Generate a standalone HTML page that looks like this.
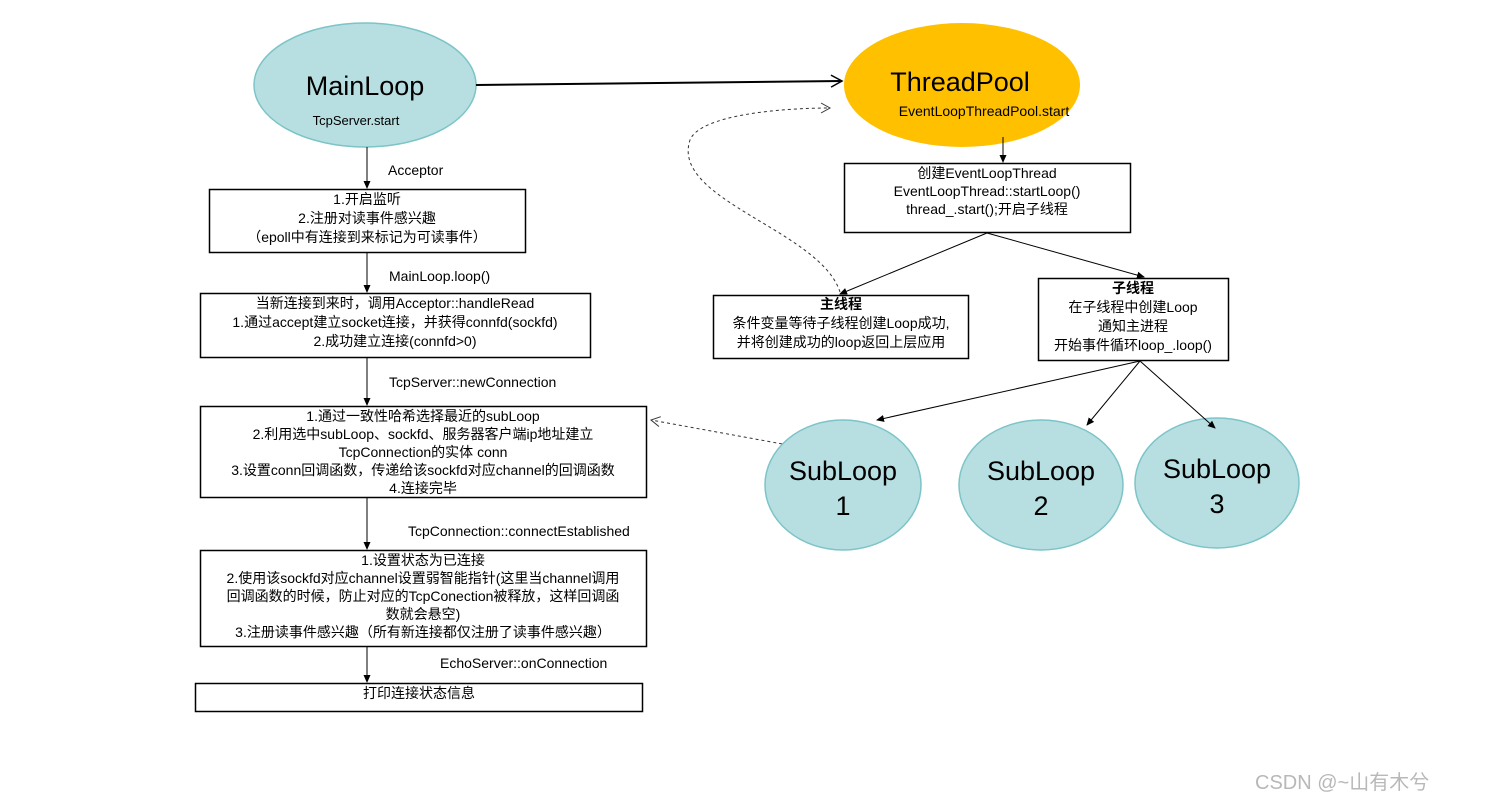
<!DOCTYPE html>
<html><head><meta charset="utf-8"><style>
html,body{margin:0;padding:0;background:#fff;}
svg{display:block;}
text{font-family:"Liberation Sans","Noto Sans CJK SC",sans-serif;fill:#000;}
.t{font-size:14px;text-anchor:middle;}
.l{font-size:14px;}
</style></head><body>
<svg width="1508" height="809" viewBox="0 0 1508 809" xmlns="http://www.w3.org/2000/svg">
<defs>
<marker id="a" markerWidth="8" markerHeight="8" refX="7" refY="4" orient="auto" markerUnits="userSpaceOnUse"><path d="M0,0.5 L8,4 L0,7.5 Z" fill="#000"/></marker>
<marker id="o" markerWidth="14" markerHeight="14" refX="12" refY="7" orient="auto" markerUnits="userSpaceOnUse"><path d="M1,1 L12,7 L1,13" fill="none" stroke="#000" stroke-width="1.5"/></marker>
<marker id="d" markerWidth="12" markerHeight="12" refX="10" refY="6" orient="auto" markerUnits="userSpaceOnUse"><path d="M1,1 L10,6 L1,11" fill="none" stroke="#333" stroke-width="1"/></marker>
</defs>
<ellipse cx="365" cy="85" rx="111" ry="62" fill="#b7dfe1" stroke="#7cc4c8" stroke-width="1.5"/>
<text x="365" y="95" font-size="27" text-anchor="middle">MainLoop</text>
<text x="356" y="125" font-size="13" text-anchor="middle">TcpServer.start</text>
<ellipse cx="962" cy="85" rx="118" ry="62" fill="#ffc000"/>
<text x="960" y="91" font-size="27" text-anchor="middle">ThreadPool</text>
<text x="984" y="116" font-size="14" text-anchor="middle">EventLoopThreadPool.start</text>
<line x1="476" y1="85" x2="842" y2="81" stroke="#000" stroke-width="2" marker-end="url(#o)"/>
<g stroke="#000" stroke-width="1" fill="none">
<line x1="367" y1="147" x2="367" y2="188" marker-end="url(#a)"/>
<line x1="367" y1="253" x2="367" y2="292" marker-end="url(#a)"/>
<line x1="367" y1="358" x2="367" y2="405" marker-end="url(#a)"/>
<line x1="367" y1="498" x2="367" y2="549" marker-end="url(#a)"/>
<line x1="367" y1="647" x2="367" y2="682" marker-end="url(#a)"/>
<rect x="209.5" y="189.5" width="316" height="63" stroke-width="1.5"/>
<rect x="200.5" y="293.5" width="390" height="64" stroke-width="1.5"/>
<rect x="200.5" y="406.5" width="446" height="91" stroke-width="1.5"/>
<rect x="200.5" y="550.5" width="446" height="96" stroke-width="1.5"/>
<rect x="195.5" y="683.5" width="447" height="28" stroke-width="1.5"/>
<rect x="844.5" y="163.5" width="286" height="69" stroke-width="1.5"/>
<rect x="713.5" y="295.5" width="255" height="63" stroke-width="1.5"/>
<rect x="1038.5" y="278.5" width="190" height="82" stroke-width="1.5"/>
<line x1="1003" y1="137" x2="1003" y2="162" marker-end="url(#a)"/>
<line x1="987" y1="233" x2="840" y2="294" marker-end="url(#a)"/>
<line x1="987" y1="233" x2="1144" y2="277" marker-end="url(#a)"/>
</g>
<g stroke="#333" stroke-width="1" fill="none" stroke-dasharray="3,3">
<path d="M840,292 C820,230 670,200 690,140 C700,115 780,108 830,108" marker-end="url(#d)"/>
<path d="M788,445 L651,420" marker-end="url(#d)"/>
</g>
<text class="l" x="388" y="175">Acceptor</text>
<text class="l" x="389" y="281">MainLoop.loop()</text>
<text class="l" x="389" y="387">TcpServer::newConnection</text>
<text class="l" x="408" y="536">TcpConnection::connectEstablished</text>
<text class="l" x="440" y="668">EchoServer::onConnection</text>
<text class="t" x="367" y="204">1.开启监听</text>
<text class="t" x="367" y="223">2.注册对读事件感兴趣</text>
<text class="t" x="367" y="242">（epoll中有连接到来标记为可读事件）</text>
<text class="t" x="395" y="308">当新连接到来时，调用Acceptor::handleRead</text>
<text class="t" x="395" y="327">1.通过accept建立socket连接，并获得connfd(sockfd)</text>
<text class="t" x="395" y="346">2.成功建立连接(connfd&gt;0)</text>
<text class="t" x="423" y="421">1.通过一致性哈希选择最近的subLoop</text>
<text class="t" x="423" y="439">2.利用选中subLoop、sockfd、服务器客户端ip地址建立</text>
<text class="t" x="423" y="457">TcpConnection的实体 conn</text>
<text class="t" x="423" y="475">3.设置conn回调函数，传递给该sockfd对应channel的回调函数</text>
<text class="t" x="423" y="493">4.连接完毕</text>
<text class="t" x="423" y="565">1.设置状态为已连接</text>
<text class="t" x="423" y="583">2.使用该sockfd对应channel设置弱智能指针(这里当channel调用</text>
<text class="t" x="423" y="601">回调函数的时候，防止对应的TcpConection被释放，这样回调函</text>
<text class="t" x="423" y="619">数就会悬空)</text>
<text class="t" x="423" y="637">3.注册读事件感兴趣（所有新连接都仅注册了读事件感兴趣）</text>
<text class="t" x="419" y="698">打印连接状态信息</text>
<text class="t" x="987" y="178">创建EventLoopThread</text>
<text class="t" x="987" y="196">EventLoopThread::startLoop()</text>
<text class="t" x="987" y="214">thread_.start();开启子线程</text>
<text class="t" x="841" y="309" font-weight="bold">主线程</text>
<text class="t" x="841" y="328">条件变量等待子线程创建Loop成功,</text>
<text class="t" x="841" y="347">并将创建成功的loop返回上层应用</text>
<text class="t" x="1133" y="293" font-weight="bold">子线程</text>
<text class="t" x="1133" y="312">在子线程中创建Loop</text>
<text class="t" x="1133" y="331">通知主进程</text>
<text class="t" x="1133" y="350">开始事件循环loop_.loop()</text>
<g fill="#b7dfe1" stroke="#7cc4c8" stroke-width="1.5">
<ellipse cx="843" cy="485" rx="78" ry="65"/>
<ellipse cx="1041" cy="485" rx="82" ry="65"/>
<ellipse cx="1217" cy="483" rx="82" ry="65"/>
</g>
<g stroke="#000" stroke-width="1" fill="none">
<line x1="1140" y1="361" x2="877" y2="420" marker-end="url(#a)"/>
<line x1="1140" y1="361" x2="1087" y2="425" marker-end="url(#a)"/>
<line x1="1140" y1="361" x2="1215" y2="428" marker-end="url(#a)"/>
</g>
<g font-size="27" text-anchor="middle">
<text x="843" y="480">SubLoop</text><text x="843" y="515">1</text>
<text x="1041" y="480">SubLoop</text><text x="1041" y="515">2</text>
<text x="1217" y="478">SubLoop</text><text x="1217" y="513">3</text>
</g>
<text x="1255" y="789" font-size="20" style="fill:#b8b8b8">CSDN @~山有木兮</text>
</svg>
</body></html>
